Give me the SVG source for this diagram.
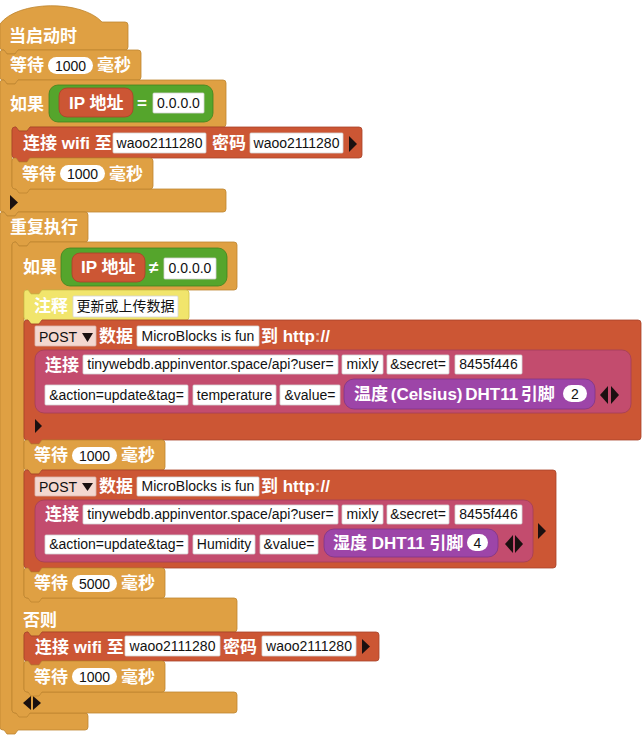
<svg xmlns="http://www.w3.org/2000/svg" width="642" height="737" viewBox="0 0 642 737">
  <style>
    .ctl{fill:#DFA043;stroke:#BE8530;stroke-width:.8}
    .red{fill:#CC5634;stroke:#A8432A;stroke-width:.8}
    .grn{fill:#55A52C;stroke:#3F8420;stroke-width:.8}
    .pnk{fill:#C34C6E;stroke:#A23D5A;stroke-width:.8}
    .pur{fill:#9D45A8;stroke:#7E3689;stroke-width:.8}
    .yel{fill:#F1E56C;stroke:#CFC24C;stroke-width:.8}
    .box{fill:#fff;stroke:#d4d4d4;stroke-width:.8}
    .drop{fill:#F4D8D0;stroke:#d9b8ae;stroke-width:.8}
    .oval{fill:#fff}
    .tri{fill:#1a1010}
    .t{font-family:"Liberation Sans","Noto Sans CJK SC",sans-serif;font-size:17px;font-weight:bold;fill:#fff}
    .v{font-family:"Liberation Sans","Noto Sans CJK SC",sans-serif;font-size:14px;fill:#111;text-anchor:middle}
    .vl{font-family:"Liberation Sans","Noto Sans CJK SC",sans-serif;font-size:14px;fill:#111}
  </style>

  <!-- when started (hat) -->
  <g id="when-started">
    <path class="ctl" d="M0,47 V24 C18,0 82,0 102,22 H125 Q128,22 128,25 V47 Q128,50 125,50 H18 L15,54 H7 L4,50 H3 Q0,50 0,47 Z"/>
    <text class="t" x="9" y="42">当启动时</text>
  </g>

  <!-- wait 1000 ms -->
  <g id="wait-1">
    <path class="ctl" d="M0,53 Q0,50 3,50 H4 L7,54 H15 L18,50 H138 Q141,50 141,53 V77 Q141,80 138,80 H18 L15,84 H7 L4,80 H3 Q0,80 0,77 Z"/>
    <text class="t" x="10" y="71">等待</text>
    <rect class="oval" x="48" y="57" width="45" height="17" rx="8.5"/>
    <text class="v" x="70.5" y="70.5">1000</text>
    <text class="t" x="97" y="71">毫秒</text>
  </g>

  <!-- if IP = 0.0.0.0 -->
  <g id="if-no-ip">
    <path class="ctl" d="M0,83 Q0,80 3,80 H4 L7,84 H15 L18,80 H223 Q226,80 226,83 V124 Q226,127 223,127 H30 L27,131 H19 L16,127 H15 Q12,127 12,130 V186 Q12,189 15,189 H223 Q226,189 226,192 V209 Q226,212 223,212 H18 L15,216 H7 L4,212 H3 Q0,212 0,209 Z"/>
    <text class="t" x="10" y="110">如果</text>
    <polygon class="tri" points="10,195 18,202.5 10,210"/>
    <g id="eq-1">
      <rect class="grn" x="49" y="85" width="164" height="37" rx="9"/>
      <g id="ip-1">
        <rect class="red" x="59" y="88" width="74" height="29" rx="8"/>
        <text class="t" x="69" y="109">IP 地址</text>
      </g>
      <text class="t" x="137" y="109">=</text>
      <rect class="box" x="153" y="93" width="51" height="20" rx="1"/>
      <text class="v" x="178.5" y="108">0.0.0.0</text>
    </g>
  </g>

  <!-- connect wifi -->
  <g id="wifi-1">
    <path class="red" d="M12,130 Q12,127 15,127 H16 L19,131 H27 L30,127 H359 Q362,127 362,130 V155 Q362,158 359,158 H30 L27,162 H19 L16,158 H15 Q12,158 12,155 Z"/>
    <text class="t" x="23" y="149">连接 wifi 至</text>
    <rect class="box" x="113" y="133" width="93" height="20" rx="1"/>
    <text class="v" x="159.5" y="148">waoo2111280</text>
    <text class="t" x="212" y="149">密码</text>
    <rect class="box" x="250" y="133" width="93" height="20" rx="1"/>
    <text class="v" x="296.5" y="148">waoo2111280</text>
    <polygon class="tri" points="349,136 357,144 349,152"/>
  </g>

  <!-- wait 1000 ms -->
  <g id="wait-2">
    <path class="ctl" d="M12,161 Q12,158 15,158 H16 L19,162 H27 L30,158 H150 Q153,158 153,161 V186 Q153,189 150,189 H30 L27,193 H19 L16,189 H15 Q12,189 12,186 Z"/>
    <text class="t" x="22" y="180">等待</text>
    <rect class="oval" x="60" y="165" width="45" height="17" rx="8.5"/>
    <text class="v" x="82.5" y="178.5">1000</text>
    <text class="t" x="109" y="180">毫秒</text>
  </g>

  <!-- forever -->
  <g id="forever">
    <path class="ctl" d="M0,215 Q0,212 3,212 H4 L7,216 H15 L18,212 H85 Q88,212 88,215 V239 Q88,242 85,242 H30 L27,246 H19 L16,242 H15 Q12,242 12,245 V710 Q12,713 15,713 H85 Q88,713 88,716 V727 Q88,730 85,730 H18 L15,734 H7 L4,730 H3 Q0,730 0,727 Z"/>
    <text class="t" x="10" y="233">重复执行</text>
  </g>

  <!-- if IP != 0.0.0.0 / else -->
  <g id="if-else">
    <path class="ctl" d="M12,245 Q12,242 15,242 H16 L19,246 H27 L30,242 H234 Q237,242 237,245 V287 Q237,290 234,290 H42 L39,294 H31 L28,290 H27 Q24,290 24,293 V595 Q24,598 27,598 H234 Q237,598 237,601 V629 Q237,632 234,632 H42 L39,636 H31 L28,632 H27 Q24,632 24,635 V689 Q24,692 27,692 H234 Q237,692 237,695 V710 Q237,713 234,713 H30 L27,717 H19 L16,713 H15 Q12,713 12,710 Z"/>
    <text class="t" x="23" y="273">如果</text>
    <text class="t" x="23" y="626">否则</text>
    <polygon class="tri" points="31,696 23,703 31,710"/>
    <polygon class="tri" points="33,696 41,703 33,710"/>
    <g id="neq">
      <rect class="grn" x="61" y="248" width="166" height="38" rx="9"/>
      <g id="ip-2">
        <rect class="red" x="72" y="253" width="73" height="29" rx="8"/>
        <text class="t" x="81" y="273">IP 地址</text>
      </g>
      <text class="t" x="149" y="273">≠</text>
      <rect class="box" x="164" y="258" width="52" height="21" rx="1"/>
      <text class="v" x="190" y="273">0.0.0.0</text>
    </g>
  </g>

  <!-- comment -->
  <g id="comment">
    <path class="yel" d="M24,293 Q24,290 27,290 H28 L31,294 H39 L42,290 H186 Q189,290 189,293 V317 Q189,320 186,320 H42 L39,324 H31 L28,320 H27 Q24,320 24,317 Z"/>
    <text class="t" x="34" y="312">注释</text>
    <rect class="box" x="73" y="296" width="105" height="21" rx="1"/>
    <text class="v" x="125.5" y="311">更新或上传数据</text>
  </g>

  <!-- POST temperature -->
  <g id="post-1">
    <path class="red" d="M24,323 Q24,320 27,320 H28 L31,324 H39 L42,320 H638 Q641,320 641,323 V437 Q641,440 638,440 H42 L39,444 H31 L28,440 H27 Q24,440 24,437 Z"/>
    <rect class="drop" x="35" y="326" width="61" height="20" rx="1"/>
    <text class="vl" x="39" y="342">POST</text>
    <polygon class="tri" points="82,333 93,333 87.5,342"/>
    <text class="t" x="99" y="342">数据</text>
    <rect class="box" x="137" y="326" width="122" height="20" rx="1"/>
    <text class="v" x="198" y="341">MicroBlocks is fun</text>
    <text class="t" x="261" y="342">到 http<tspan fill-opacity=".6">:</tspan>//</text>
    <polygon class="tri" points="35,419 42,426 35,433"/>
    <g id="join-1">
      <rect class="pnk" x="35" y="350" width="596" height="63" rx="9"/>
      <text class="t" x="45" y="371">连接</text>
      <rect class="box" x="83" y="355" width="255" height="19" rx="1"/>
      <text class="v" x="210.5" y="369">tinywebdb.appinventor.space/api?user=</text>
      <rect class="box" x="342" y="355" width="41" height="19" rx="1"/>
      <text class="v" x="362.5" y="369">mixly</text>
      <rect class="box" x="387" y="355" width="62" height="19" rx="1"/>
      <text class="v" x="418" y="369">&amp;secret=</text>
      <rect class="box" x="455" y="355" width="67" height="19" rx="1"/>
      <text class="v" x="488.5" y="369">8455f446</text>
      <rect class="box" x="45" y="385" width="143" height="20" rx="1"/>
      <text class="v" x="116.5" y="400">&amp;action=update&amp;tag=</text>
      <rect class="box" x="193" y="385" width="83" height="20" rx="1"/>
      <text class="v" x="234.5" y="400">temperature</text>
      <rect class="box" x="280" y="385" width="60" height="20" rx="1"/>
      <text class="v" x="310" y="400">&amp;value=</text>
      <polygon class="tri" points="608,386 600,395 608,404"/>
      <polygon class="tri" points="611,386 619,395 611,404"/>
      <g id="temp">
        <rect class="pur" x="344" y="379" width="251" height="30" rx="10"/>
        <text class="t" x="354" y="400" word-spacing="-2">温度 (Celsius) DHT11 引脚</text>
        <rect class="oval" x="563" y="385" width="24" height="17" rx="8.5"/>
        <text class="v" x="575" y="399">2</text>
      </g>
    </g>
  </g>

  <!-- wait 1000 ms -->
  <g id="wait-3">
    <path class="ctl" d="M24,443 Q24,440 27,440 H28 L31,444 H39 L42,440 H162 Q165,440 165,443 V467 Q165,470 162,470 H42 L39,474 H31 L28,470 H27 Q24,470 24,467 Z"/>
    <text class="t" x="34" y="461">等待</text>
    <rect class="oval" x="72" y="447" width="45" height="17" rx="8.5"/>
    <text class="v" x="94.5" y="460.5">1000</text>
    <text class="t" x="121" y="461">毫秒</text>
  </g>

  <!-- POST humidity -->
  <g id="post-2">
    <path class="red" d="M24,473 Q24,470 27,470 H28 L31,474 H39 L42,470 H553 Q556,470 556,473 V565 Q556,568 553,568 H42 L39,572 H31 L28,568 H27 Q24,568 24,565 Z"/>
    <rect class="drop" x="35" y="477" width="61" height="19" rx="1"/>
    <text class="vl" x="39" y="492">POST</text>
    <polygon class="tri" points="82,483 93,483 87.5,491"/>
    <text class="t" x="99" y="492">数据</text>
    <rect class="box" x="137" y="477" width="122" height="19" rx="1"/>
    <text class="v" x="198" y="491">MicroBlocks is fun</text>
    <text class="t" x="261" y="492">到 http<tspan fill-opacity=".6">:</tspan>//</text>
    <polygon class="tri" points="538,523 546,531 538,539"/>
    <g id="join-2">
      <rect class="pnk" x="35" y="500" width="498" height="62" rx="9"/>
      <text class="t" x="45" y="520">连接</text>
      <rect class="box" x="83" y="505" width="255" height="19" rx="1"/>
      <text class="v" x="210.5" y="519">tinywebdb.appinventor.space/api?user=</text>
      <rect class="box" x="342" y="505" width="41" height="19" rx="1"/>
      <text class="v" x="362.5" y="519">mixly</text>
      <rect class="box" x="387" y="505" width="62" height="19" rx="1"/>
      <text class="v" x="418" y="519">&amp;secret=</text>
      <rect class="box" x="455" y="505" width="67" height="19" rx="1"/>
      <text class="v" x="488.5" y="519">8455f446</text>
      <rect class="box" x="45" y="535" width="143" height="19" rx="1"/>
      <text class="v" x="116.5" y="549">&amp;action=update&amp;tag=</text>
      <rect class="box" x="193" y="535" width="62" height="19" rx="1"/>
      <text class="v" x="224" y="549">Humidity</text>
      <rect class="box" x="260" y="535" width="58" height="19" rx="1"/>
      <text class="v" x="289" y="549">&amp;value=</text>
      <polygon class="tri" points="513,535 505,544 513,553"/>
      <polygon class="tri" points="515,535 523,544 515,553"/>
      <g id="humidity">
        <rect class="pur" x="324" y="529" width="174" height="28" rx="10"/>
        <text class="t" x="333" y="549">湿度 DHT11 引脚</text>
        <rect class="oval" x="467" y="534" width="21" height="17" rx="8.5"/>
        <text class="v" x="477.5" y="548">4</text>
      </g>
    </g>
  </g>

  <!-- wait 5000 ms -->
  <g id="wait-4">
    <path class="ctl" d="M24,571 Q24,568 27,568 H28 L31,572 H39 L42,568 H162 Q165,568 165,571 V595 Q165,598 162,598 H42 L39,602 H31 L28,598 H27 Q24,598 24,595 Z"/>
    <text class="t" x="34" y="589">等待</text>
    <rect class="oval" x="72" y="575" width="45" height="17" rx="8.5"/>
    <text class="v" x="94.5" y="588.5">5000</text>
    <text class="t" x="121" y="589">毫秒</text>
  </g>

  <!-- connect wifi (else branch) -->
  <g id="wifi-2">
    <path class="red" d="M24,635 Q24,632 27,632 H28 L31,636 H39 L42,632 H376 Q379,632 379,635 V658 Q379,661 376,661 H42 L39,665 H31 L28,661 H27 Q24,661 24,658 Z"/>
    <text class="t" x="35" y="653">连接 wifi 至</text>
    <rect class="box" x="125" y="636" width="95" height="20" rx="1"/>
    <text class="v" x="172.5" y="651">waoo2111280</text>
    <text class="t" x="223" y="653">密码</text>
    <rect class="box" x="262" y="636" width="94" height="20" rx="1"/>
    <text class="v" x="309" y="651">waoo2111280</text>
    <polygon class="tri" points="362,639 370,646.5 362,654"/>
  </g>

  <!-- wait 1000 ms -->
  <g id="wait-5">
    <path class="ctl" d="M24,664 Q24,661 27,661 H28 L31,665 H39 L42,661 H162 Q165,661 165,664 V689 Q165,692 162,692 H42 L39,696 H31 L28,692 H27 Q24,692 24,689 Z"/>
    <text class="t" x="34" y="683">等待</text>
    <rect class="oval" x="72" y="668" width="45" height="17" rx="8.5"/>
    <text class="v" x="94.5" y="681.5">1000</text>
    <text class="t" x="121" y="683">毫秒</text>
  </g>
</svg>
